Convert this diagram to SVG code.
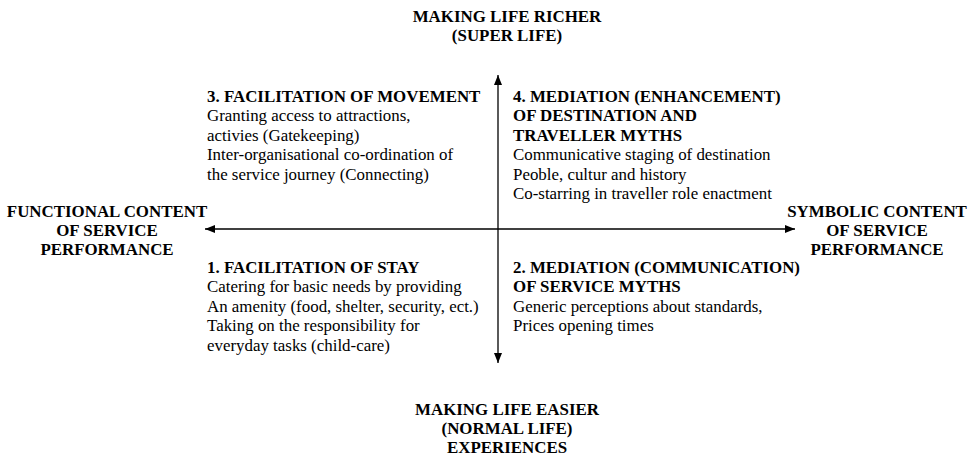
<svg xmlns="http://www.w3.org/2000/svg" width="970" height="456" viewBox="0 0 970 456">
<style>
text{font-family:"Liberation Serif","Times New Roman",serif;font-size:16.9px;fill:#000}
.b{font-weight:bold}
.c{text-anchor:middle}
.ax{stroke:#000;stroke-width:1.3;fill:none}
</style>
<defs>
<marker id="ah" markerWidth="10" markerHeight="8" refX="10" refY="4" orient="auto" markerUnits="userSpaceOnUse">
<path d="M0,0 L10,4 L0,8 Z" fill="#000"/>
</marker>
</defs>
<rect width="970" height="456" fill="#fff"/>
<g id="connectors">
<line class="ax" x1="498" y1="229" x2="498" y2="75" marker-end="url(#ah)"/>
<line class="ax" x1="498" y1="229" x2="498" y2="363" marker-end="url(#ah)"/>
<line class="ax" x1="498" y1="229" x2="205" y2="229" marker-end="url(#ah)"/>
<line class="ax" x1="498" y1="229" x2="795" y2="229" marker-end="url(#ah)"/>
</g>
<g id="top">
<text class="b c" x="507" y="22">MAKING LIFE RICHER</text>
<text class="b c" x="507" y="41">(SUPER LIFE)</text>
</g>
<g id="bottom">
<text class="b c" x="507" y="415">MAKING LIFE EASIER</text>
<text class="b c" x="507" y="434">(NORMAL LIFE)</text>
<text class="b c" x="507" y="453">EXPERIENCES</text>
</g>
<g id="left">
<text class="b c" x="107" y="217">FUNCTIONAL CONTENT</text>
<text class="b c" x="107" y="236">OF SERVICE</text>
<text class="b c" x="107" y="255">PERFORMANCE</text>
</g>
<g id="right">
<text class="b c" x="877" y="217">SYMBOLIC CONTENT</text>
<text class="b c" x="877" y="236">OF SERVICE</text>
<text class="b c" x="877" y="255">PERFORMANCE</text>
</g>
<g id="q3">
<text class="b" x="207" y="102">3. FACILITATION OF MOVEMENT</text>
<text x="207" y="121">Granting access to attractions,</text>
<text x="207" y="141">activies (Gatekeeping)</text>
<text x="207" y="160">Inter-organisational co-ordination of</text>
<text x="207" y="180">the service journey (Connecting)</text>
</g>
<g id="q4">
<text class="b" x="513" y="102">4. MEDIATION (ENHANCEMENT)</text>
<text class="b" x="513" y="121">OF DESTINATION AND</text>
<text class="b" x="513" y="141">TRAVELLER MYTHS</text>
<text x="513" y="160">Communicative staging of destination</text>
<text x="513" y="180">Peoble, cultur and history</text>
<text x="513" y="199">Co-starring in traveller role enactment</text>
</g>
<g id="q1">
<text class="b" x="207" y="273">1. FACILITATION OF STAY</text>
<text x="207" y="292">Catering for basic needs by providing</text>
<text x="207" y="312">An amenity (food, shelter, security, ect.)</text>
<text x="207" y="331">Taking on the responsibility for</text>
<text x="207" y="351">everyday tasks (child-care)</text>
</g>
<g id="q2">
<text class="b" x="513" y="273">2. MEDIATION (COMMUNICATION)</text>
<text class="b" x="513" y="292">OF SERVICE MYTHS</text>
<text x="513" y="312">Generic perceptions about standards,</text>
<text x="513" y="331">Prices opening times</text>
</g>
</svg>
